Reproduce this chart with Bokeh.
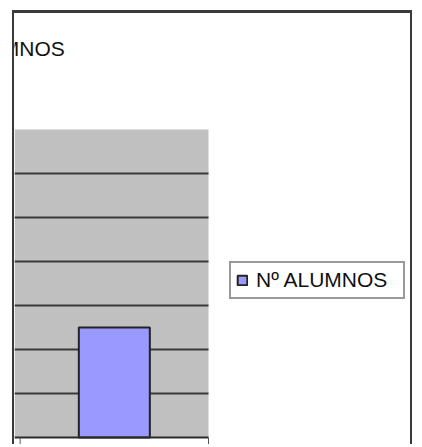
from bokeh.plotting import figure
from bokeh.models import (Range1d, Legend, LegendItem, Label, BoxAnnotation,
                          ColumnDataSource)
from bokeh.embed import file_html
from bokeh.resources import INLINE

# ---- data ----
categories = ["Nº ALUMNOS"]
alumnos = [5]
y_ticks = [0, 2, 4, 6, 8, 10, 12]
y_max = 14
series_name = "Nº ALUMNOS"
title_text = "Nº ALUMNOS"

# ---- layout (pixels inside the canvas) ----
W, H = 400, 434                 # canvas size
PA_L, PA_R = 0, 194             # plot-area left/right (px)
PA_T, PA_B = 116, 424           # plot-area top/bottom (px from canvas top)
X0 = -0.03                      # data x at plot-area left edge
n = len(categories)

sx = (PA_R - PA_L) / (n - X0)
sy = (PA_B - PA_T) / y_max
x_range = Range1d(X0 - PA_L / sx, X0 + (W - PA_L) / sx)
y_range = Range1d(-(H - PA_B) / sy, y_max + PA_T / sy)

x_pos = [i + 0.5 for i in range(n)]
x_bounds = list(range(n + 1))
src = ColumnDataSource(dict(x=x_pos, top=alumnos, cat=categories))

FONT = "Liberation Sans"
DARK = "#3a3a3a"

p = figure(width=W, height=H, output_backend="svg", toolbar_location=None,
           x_range=x_range, y_range=y_range,
           x_axis_type=None, y_axis_type=None,
           min_border=0, background_fill_color="white",
           border_fill_color="white", outline_line_color=None,
           margin=(10, 0, 0, 12))
p.styles = {"border-top": f"3px solid {DARK}",
            "border-left": f"2px solid {DARK}",
            "border-right": f"2px solid {DARK}"}

# plot area
p.add_layout(BoxAnnotation(left=X0, right=n, bottom=y_ticks[0], top=y_max,
                           fill_color="#C0C0C0", fill_alpha=1,
                           line_color=None, level="underlay"))

# horizontal gridlines
gl = y_ticks[1:]
p.segment(x0=[X0] * len(gl), x1=[n] * len(gl), y0=gl, y1=gl,
          line_color=DARK, line_width=2)

# bar
bars = p.vbar(x="x", top="top", bottom=y_ticks[0], width=0.377, source=src,
              fill_color="#9999FF", line_color="#222222", line_width=2)

# category axis line and tick marks
p.segment(x0=[X0], x1=[n], y0=[y_ticks[0]], y1=[y_ticks[0]],
          line_color="#2a2a2a", line_width=2)
tick_len = 10 / sy
p.segment(x0=x_bounds, x1=x_bounds, y0=[y_ticks[0]] * len(x_bounds),
          y1=[y_ticks[0] - tick_len] * len(x_bounds),
          line_color="#555555", line_width=1)

legend = Legend(items=[LegendItem(label=series_name, renderers=[bars])],
                location=(215, 148), padding=5, margin=0, spacing=0,
                label_standoff=8, glyph_width=12, glyph_height=12,
                label_height=21, label_width=142,
                label_text_font=FONT, label_text_font_size="21px",
                label_text_color="#111111",
                border_line_color="#333333", border_line_width=2,
                background_fill_color="white", background_fill_alpha=1)
p.add_layout(legend)

p.add_layout(Label(x=51.5, y=399, x_units="screen", y_units="screen",
                   text=title_text, text_align="right",
                   text_baseline="alphabetic", text_font=FONT,
                   text_font_size="21px", text_color="#111111"))

open("out.html", "w").write(file_html(p, INLINE))
